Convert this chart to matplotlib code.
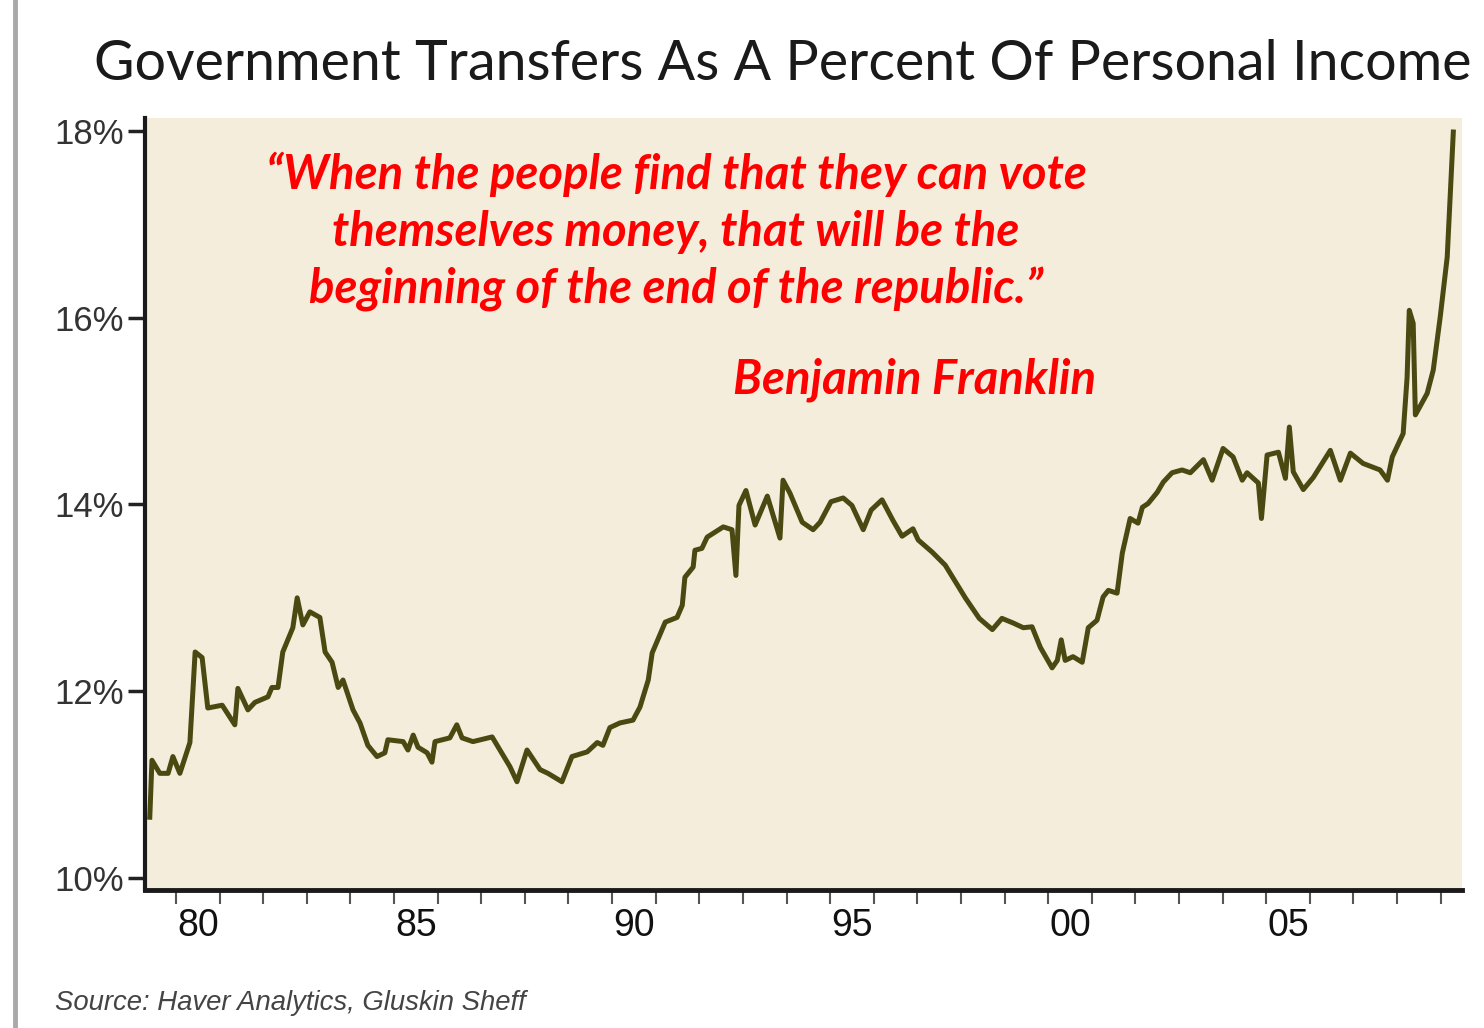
import matplotlib.pyplot as plt
from matplotlib.lines import Line2D

# Government transfers as % of personal income
years = [1979.40, 1979.45, 1979.63, 1979.82, 1979.93, 1980.09, 1980.32, 1980.44, 1980.60, 1980.73,
         1981.06, 1981.35, 1981.42, 1981.65, 1981.81, 1982.11, 1982.20, 1982.34, 1982.45, 1982.68,
         1982.78, 1982.91, 1983.07, 1983.30, 1983.42, 1983.58, 1983.72, 1983.83, 1984.06, 1984.22,
         1984.40, 1984.61, 1984.79, 1984.86, 1985.21, 1985.32, 1985.44, 1985.55, 1985.76, 1985.87,
         1985.94, 1986.28, 1986.44, 1986.56, 1986.81, 1987.25, 1987.39, 1987.66, 1987.82, 1988.05,
         1988.35, 1988.53, 1988.85, 1989.08, 1989.43, 1989.66, 1989.79, 1989.95, 1990.18, 1990.48,
         1990.64, 1990.83, 1990.92, 1991.22, 1991.49, 1991.61, 1991.67, 1991.86, 1991.90, 1992.06,
         1992.18, 1992.55, 1992.75, 1992.84, 1992.91, 1993.07, 1993.28, 1993.56, 1993.85, 1993.92,
         1994.08, 1994.36, 1994.61, 1994.77, 1995.02, 1995.30, 1995.50, 1995.76, 1995.94, 1996.19,
         1996.44, 1996.65, 1996.90, 1997.02, 1997.34, 1997.64, 1998.10, 1998.42, 1998.72, 1998.94,
         1999.20, 1999.43, 1999.63, 1999.82, 2000.09, 2000.21, 2000.30, 2000.39, 2000.57, 2000.78,
         2000.92, 2001.12, 2001.26, 2001.38, 2001.58, 2001.70, 2001.88, 2002.06, 2002.16, 2002.29,
         2002.50, 2002.64, 2002.84, 2003.07, 2003.26, 2003.56, 2003.76, 2004.01, 2004.24, 2004.45,
         2004.56, 2004.82, 2004.89, 2005.02, 2005.28, 2005.44, 2005.53, 2005.62, 2005.85, 2006.08,
         2006.47, 2006.70, 2006.93, 2007.22, 2007.61, 2007.78, 2007.89, 2008.14, 2008.23, 2008.28,
         2008.37, 2008.42, 2008.69, 2008.83, 2008.99, 2009.15, 2009.22, 2009.29]
pct = [10.65, 11.26, 11.12, 11.12, 11.30, 11.12, 11.45, 12.42, 12.36, 11.82,
       11.85, 11.64, 12.03, 11.80, 11.88, 11.94, 12.04, 12.04, 12.42, 12.68,
       13.00, 12.71, 12.85, 12.79, 12.42, 12.31, 12.04, 12.12, 11.80, 11.66,
       11.42, 11.30, 11.34, 11.48, 11.46, 11.37, 11.53, 11.40, 11.34, 11.24,
       11.46, 11.50, 11.64, 11.50, 11.46, 11.51, 11.40, 11.19, 11.03, 11.37,
       11.16, 11.12, 11.03, 11.30, 11.35, 11.45, 11.42, 11.61, 11.66, 11.69,
       11.83, 12.12, 12.41, 12.74, 12.79, 12.92, 13.22, 13.33, 13.51, 13.53,
       13.65, 13.76, 13.73, 13.24, 13.99, 14.15, 13.78, 14.09, 13.64, 14.26,
       14.12, 13.81, 13.73, 13.81, 14.03, 14.07, 13.99, 13.73, 13.94, 14.05,
       13.83, 13.66, 13.74, 13.62, 13.49, 13.35, 13.00, 12.78, 12.66, 12.78,
       12.73, 12.68, 12.69, 12.47, 12.25, 12.33, 12.55, 12.33, 12.37, 12.31,
       12.68, 12.76, 13.01, 13.08, 13.05, 13.48, 13.85, 13.80, 13.97, 14.01,
       14.13, 14.24, 14.34, 14.37, 14.34, 14.48, 14.26, 14.60, 14.51, 14.26,
       14.34, 14.23, 13.85, 14.53, 14.56, 14.28, 14.83, 14.35, 14.16, 14.29,
       14.58, 14.26, 14.55, 14.44, 14.37, 14.26, 14.51, 14.76, 15.36, 16.08,
       15.94, 14.96, 15.19, 15.44, 16.01, 16.65, 17.33, 17.99]

y_ticks = [10, 12, 14, 16, 18]
y_labels = ["10%", "12%", "14%", "16%", "18%"]
x_labels = ["80", "85", "90", "95", "00", "05"]
x_label_pos = [1980.5, 1985.5, 1990.5, 1995.5, 2000.5, 2005.5]
year_ticks = list(range(1980, 2010))

title = "Government Transfers As A Percent Of Personal Income"
quote = ("\u201cWhen the people find that they can vote\n"
         "themselves money, that will be the\n"
         "beginning of the end of the republic.\u201d")
author = "Benjamin Franklin"
source = "Source: Haver Analytics, Gluskin Sheff"

fig = plt.figure(figsize=(14.84, 10.28), dpi=100)
ax = fig.add_axes([0.0977, 0.1342, 0.8875, 0.751])
ax.set_facecolor("#f5eddb")

ax.plot(years, pct, color="#4b4912", lw=3.6, solid_joinstyle="round")

ax.set_xlim(1979.29, 2009.49)
ax.set_ylim(9.87, 18.14)

# y axis
ax.set_yticks(y_ticks)
ax.set_yticklabels(y_labels, family=["Liberation Sans", "DejaVu Sans"],
                   fontsize=25, color="#333333")
ax.tick_params(axis="y", length=12, width=2.5, color="#222222", pad=3)

# x axis: labels at mid-year, marks at year boundaries
ax.set_xticks(x_label_pos)
ax.set_xticklabels(x_labels, family=["Liberation Sans", "DejaVu Sans"],
                   fontsize=27, color="#111111")
ax.tick_params(axis="x", which="major", length=0, pad=13)
ax.set_xticks(year_ticks, minor=True)
ax.tick_params(axis="x", which="minor", length=10, width=1.5, color="#555555")

for s in ["top", "right"]:
    ax.spines[s].set_visible(False)
ax.spines["left"].set_linewidth(3)
ax.spines["left"].set_color("#1a1a1a")
ax.spines["bottom"].set_linewidth(3.5)
ax.spines["bottom"].set_color("#1a1a1a")

fig.text(0.5277, 0.9368, title, ha="center", va="center", fontsize=40,
         family=["Lato", "DejaVu Sans"], color="#1a1a1a")
fig.text(0.4555, 0.7743, quote, ha="center", va="center", fontsize=34,
         family=["Lato", "DejaVu Sans"], fontweight="bold", fontstyle="italic",
         color="#ff0000", linespacing=1.36)
fig.text(0.6166, 0.6304, author, ha="center", va="center", fontsize=34,
         family=["Lato", "DejaVu Sans"], fontweight="bold", fontstyle="italic",
         color="#ff0000")
fig.text(0.037, 0.0243, source, ha="left", va="center", fontsize=19.8,
         family=["Liberation Sans", "DejaVu Sans"], fontstyle="italic",
         color="#444444")

# grey bar on the left edge
fig.add_artist(Line2D([0.0098, 0.0098], [0, 1], transform=fig.transFigure,
                      color="#a9a9a9", lw=3.5))

plt.savefig("out.png", dpi=100)
plt.close()
